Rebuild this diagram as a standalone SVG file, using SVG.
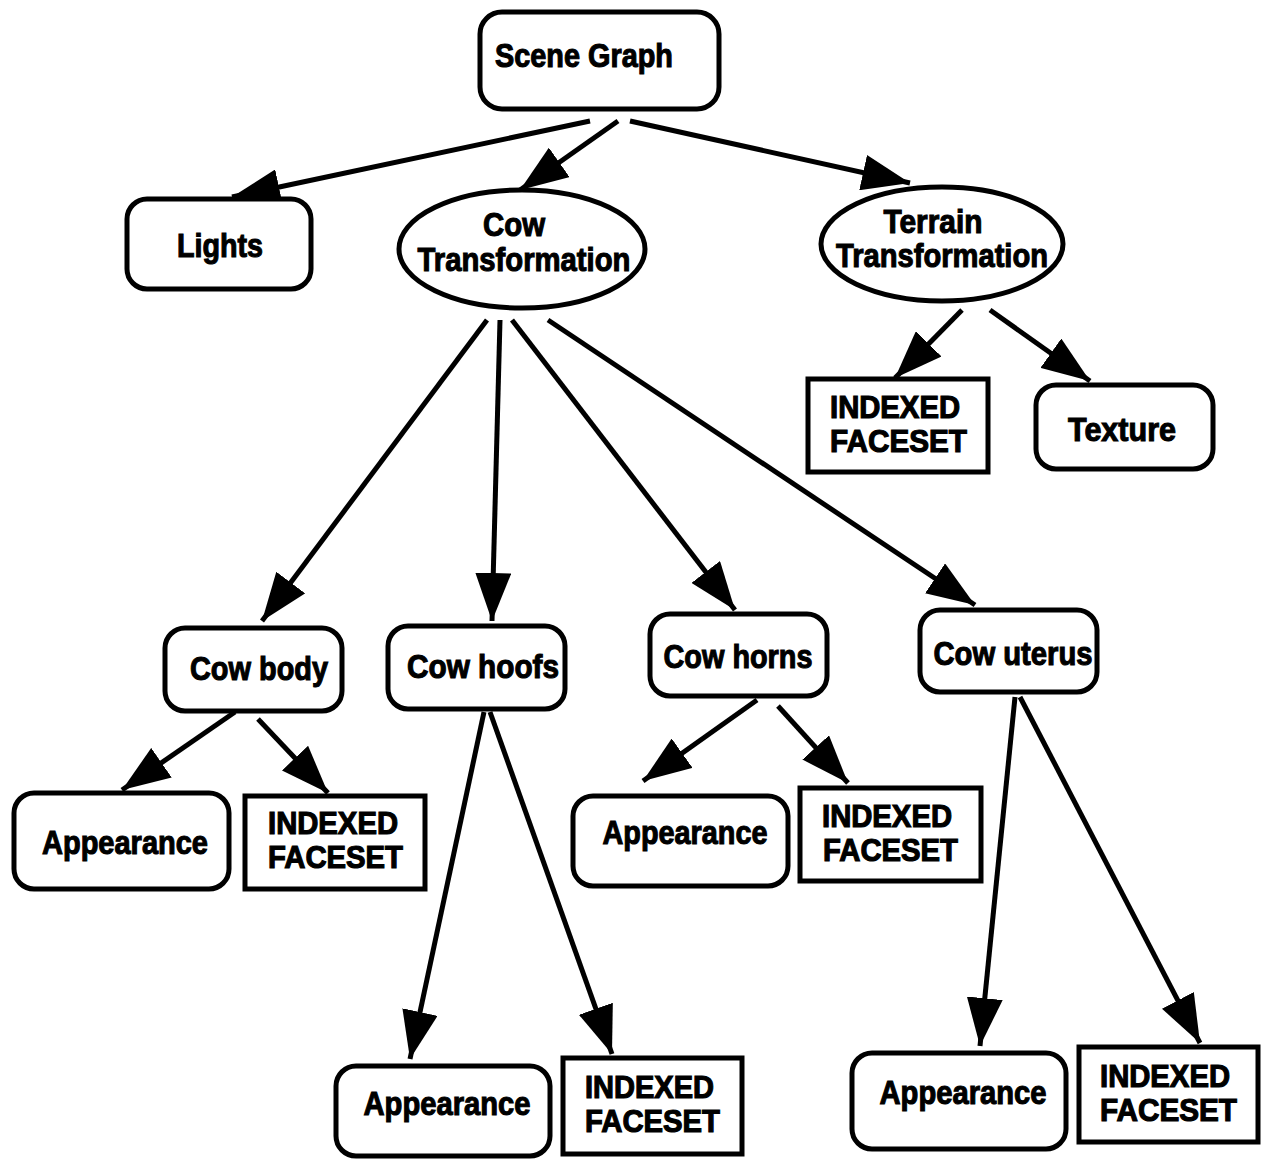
<svg xmlns="http://www.w3.org/2000/svg" width="1262" height="1160" viewBox="0 0 1262 1160">
  <style>
    .rnd { fill: #fff; stroke: #000; stroke-width: 5; }
    .sq { fill: #fff; stroke: #000; stroke-width: 5; }
    .lbl { font-family: "Liberation Sans", Arial, sans-serif; font-weight: bold; font-size: 33px; fill: #000; stroke: #000; stroke-width: 1.1; }
    .ifs { font-size: 32px; stroke-width: 1.2; }
    .c { text-anchor: middle; }
    .edge { stroke: #000; stroke-width: 5; fill: none; marker-end: url(#head); }
  </style>
  <defs>
    <marker id="head" markerUnits="userSpaceOnUse" markerWidth="48" markerHeight="36" refX="48" refY="18" orient="auto">
      <path d="M0,0 L48,18 L0,36 Z" fill="#000"/>
    </marker>
  </defs>
  <rect width="1262" height="1160" fill="#fff"/>

  <g id="connectors">
    <line class="edge" x1="590" y1="121" x2="232" y2="197"/>
    <line class="edge" x1="618" y1="121" x2="520" y2="190"/>
    <line class="edge" x1="630" y1="121" x2="910" y2="183"/>
    <line class="edge" x1="487" y1="320" x2="262" y2="621"/>
    <line class="edge" x1="500" y1="320" x2="492" y2="621"/>
    <line class="edge" x1="512" y1="320" x2="735" y2="610"/>
    <line class="edge" x1="548" y1="320" x2="975" y2="605"/>
    <line class="edge" x1="962" y1="310" x2="895" y2="378"/>
    <line class="edge" x1="990" y1="310" x2="1090" y2="381"/>
    <line class="edge" x1="235" y1="712" x2="122" y2="790"/>
    <line class="edge" x1="258" y1="719" x2="328" y2="793"/>
    <line class="edge" x1="484" y1="712" x2="410" y2="1059"/>
    <line class="edge" x1="490" y1="712" x2="612" y2="1054"/>
    <line class="edge" x1="757" y1="700" x2="643" y2="781"/>
    <line class="edge" x1="778" y1="706" x2="848" y2="783"/>
    <line class="edge" x1="1015" y1="697" x2="980" y2="1046"/>
    <line class="edge" x1="1020" y1="697" x2="1200" y2="1043"/>
  </g>

  <g id="scene-graph">
    <rect class="rnd" x="480" y="12" width="239" height="97" rx="22"/>
    <text class="lbl c" x="584" y="67" textLength="178" lengthAdjust="spacingAndGlyphs">Scene Graph</text>
  </g>
  <g id="lights">
    <rect class="rnd" x="127" y="199" width="184" height="90" rx="20"/>
    <text class="lbl c" x="220" y="257" textLength="86" lengthAdjust="spacingAndGlyphs">Lights</text>
  </g>
  <g id="cow-transformation">
    <ellipse class="rnd" cx="522" cy="249" rx="123" ry="59"/>
    <text class="lbl c"><tspan x="514" y="236" textLength="62" lengthAdjust="spacingAndGlyphs">Cow</tspan><tspan x="524" y="271" textLength="213" lengthAdjust="spacingAndGlyphs">Transformation</tspan></text>
  </g>
  <g id="terrain-transformation">
    <ellipse class="rnd" cx="942" cy="244" rx="121" ry="57"/>
    <text class="lbl c"><tspan x="933" y="233" textLength="99" lengthAdjust="spacingAndGlyphs">Terrain</tspan><tspan x="942" y="267" textLength="212" lengthAdjust="spacingAndGlyphs">Transformation</tspan></text>
  </g>
  <g id="terrain-faceset">
    <rect class="sq" x="808" y="379" width="180" height="93"/>
    <text class="lbl ifs"><tspan x="830" y="418" textLength="130" lengthAdjust="spacingAndGlyphs">INDEXED</tspan><tspan x="830" y="452" textLength="137" lengthAdjust="spacingAndGlyphs">FACESET</tspan></text>
  </g>
  <g id="texture">
    <rect class="rnd" x="1036" y="385" width="177" height="84" rx="20"/>
    <text class="lbl c" x="1122" y="441" textLength="108" lengthAdjust="spacingAndGlyphs">Texture</text>
  </g>
  <g id="cow-body">
    <rect class="rnd" x="165" y="628" width="177" height="83" rx="20"/>
    <text class="lbl c" x="259" y="680" textLength="138" lengthAdjust="spacingAndGlyphs">Cow body</text>
  </g>
  <g id="cow-hoofs">
    <rect class="rnd" x="388" y="626" width="177" height="83" rx="20"/>
    <text class="lbl c" x="483" y="678" textLength="152" lengthAdjust="spacingAndGlyphs">Cow hoofs</text>
  </g>
  <g id="cow-horns">
    <rect class="rnd" x="650" y="614" width="177" height="82" rx="20"/>
    <text class="lbl c" x="738" y="668" textLength="149" lengthAdjust="spacingAndGlyphs">Cow horns</text>
  </g>
  <g id="cow-uterus">
    <rect class="rnd" x="920" y="610" width="177" height="82" rx="20"/>
    <text class="lbl c" x="1013" y="665" textLength="159" lengthAdjust="spacingAndGlyphs">Cow uterus</text>
  </g>
  <g id="body-appearance">
    <rect class="rnd" x="14" y="793" width="215" height="96" rx="20"/>
    <text class="lbl c" x="125" y="854" textLength="166" lengthAdjust="spacingAndGlyphs">Appearance</text>
  </g>
  <g id="body-faceset">
    <rect class="sq" x="245" y="796" width="180" height="93"/>
    <text class="lbl ifs"><tspan x="268" y="834" textLength="130" lengthAdjust="spacingAndGlyphs">INDEXED</tspan><tspan x="268" y="868" textLength="135" lengthAdjust="spacingAndGlyphs">FACESET</tspan></text>
  </g>
  <g id="horns-appearance">
    <rect class="rnd" x="573" y="796" width="215" height="90" rx="20"/>
    <text class="lbl c" x="685" y="844" textLength="165" lengthAdjust="spacingAndGlyphs">Appearance</text>
  </g>
  <g id="horns-faceset">
    <rect class="sq" x="800" y="788" width="181" height="93"/>
    <text class="lbl ifs"><tspan x="822" y="827" textLength="130" lengthAdjust="spacingAndGlyphs">INDEXED</tspan><tspan x="823" y="861" textLength="135" lengthAdjust="spacingAndGlyphs">FACESET</tspan></text>
  </g>
  <g id="hoofs-appearance">
    <rect class="rnd" x="336" y="1066" width="214" height="90" rx="20"/>
    <text class="lbl c" x="447" y="1115" textLength="167" lengthAdjust="spacingAndGlyphs">Appearance</text>
  </g>
  <g id="hoofs-faceset">
    <rect class="sq" x="563" y="1058" width="179" height="96"/>
    <text class="lbl ifs"><tspan x="585" y="1098" textLength="129" lengthAdjust="spacingAndGlyphs">INDEXED</tspan><tspan x="585" y="1132" textLength="135" lengthAdjust="spacingAndGlyphs">FACESET</tspan></text>
  </g>
  <g id="uterus-appearance">
    <rect class="rnd" x="852" y="1053" width="214" height="96" rx="20"/>
    <text class="lbl c" x="963" y="1104" textLength="167" lengthAdjust="spacingAndGlyphs">Appearance</text>
  </g>
  <g id="uterus-faceset">
    <rect class="sq" x="1079" y="1047" width="179" height="95"/>
    <text class="lbl ifs"><tspan x="1100" y="1087" textLength="130" lengthAdjust="spacingAndGlyphs">INDEXED</tspan><tspan x="1100" y="1121" textLength="137" lengthAdjust="spacingAndGlyphs">FACESET</tspan></text>
  </g>
</svg>
